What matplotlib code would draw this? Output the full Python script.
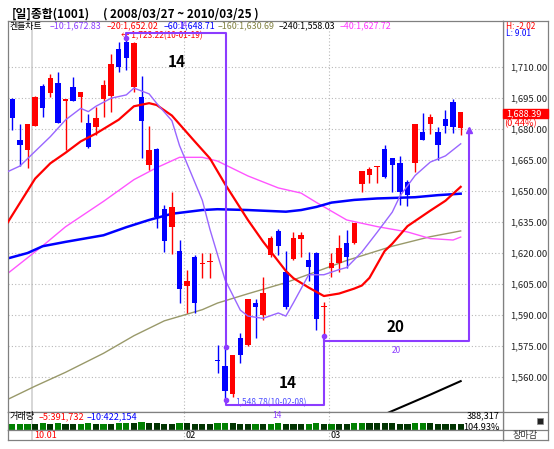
import numpy as np
import matplotlib.pyplot as plt

plt.rcParams['font.family'] = ['Noto Sans CJK KR', 'DejaVu Sans']

# daily KOSPI candles, 2009-12-28 .. 2010-03-25 (index 0..59)
opens = [1694.5, 1674.7, 1669.8, 1681.5, 1701.0, 1697.6, 1702.4, 1693.7, 1700.2, 1695.6,
         1683.1, 1680.8, 1694.4, 1696.0, 1718.7, 1722.2, 1700.5, 1695.6, 1662.6, 1670.2,
         1641.3, 1632.4, 1621.0, 1604.1, 1618.2, 1614.5, 1615.5, 1567.9, 1565.3, 1551.6,
         1578.8, 1575.5, 1595.6, 1590.0, 1619.0, 1630.8, 1611.0, 1617.0, 1626.9, 1616.6,
         1620.2, 1594.0, 1612.6, 1615.3, 1624.7, 1625.0, 1653.4, 1657.7, 1661.5, 1670.2,
         1666.1, 1663.4, 1654.2, 1663.4, 1678.7, 1682.4, 1678.4, 1684.7, 1693.2, 1680.3]
highs = [1695.2, 1682.4, 1682.4, 1695.8, 1701.8, 1706.5, 1707.4, 1694.5, 1705.3, 1698.1,
         1687.3, 1690.8, 1703.7, 1716.3, 1722.2, 1723.22, 1722.0, 1705.6, 1681.5, 1670.7,
         1643.2, 1649.4, 1626.3, 1611.8, 1619.0, 1619.9, 1619.9, 1575.5, 1575.0, 1570.8,
         1581.5, 1597.8, 1598.0, 1608.5, 1628.0, 1631.5, 1620.9, 1630.3, 1630.3, 1620.6,
         1620.6, 1596.3, 1619.9, 1628.7, 1631.2, 1634.7, 1659.9, 1661.5, 1662.1, 1672.3,
         1666.2, 1667.0, 1655.3, 1682.5, 1687.6, 1687.3, 1681.1, 1689.2, 1694.4, 1688.4]
lows = [1679.5, 1662.1, 1661.0, 1681.5, 1686.0, 1695.6, 1683.1, 1669.8, 1693.7, 1683.5,
        1671.0, 1677.1, 1686.0, 1688.4, 1707.7, 1708.5, 1698.0, 1665.8, 1660.2, 1632.0,
        1620.6, 1619.5, 1596.0, 1590.8, 1591.1, 1607.8, 1607.8, 1561.8, 1548.78, 1550.5,
        1566.6, 1575.0, 1578.8, 1587.6, 1618.0, 1619.0, 1593.0, 1616.5, 1618.2, 1606.7,
        1582.8, 1580.0, 1608.5, 1611.0, 1612.6, 1624.5, 1649.7, 1653.7, 1653.7, 1656.5,
        1649.7, 1643.2, 1642.8, 1659.3, 1674.6, 1677.6, 1665.0, 1677.9, 1677.9, 1677.1]
closes = [1685.2, 1672.3, 1682.4, 1695.6, 1690.0, 1704.8, 1683.1, 1694.5, 1693.7, 1698.1,
          1671.4, 1685.2, 1701.3, 1711.5, 1709.9, 1714.2, 1721.5, 1684.0, 1669.8, 1637.6,
          1625.8, 1642.1, 1602.6, 1606.5, 1596.0, 1614.9, 1615.9, 1567.6, 1553.4, 1570.5,
          1570.7, 1597.6, 1594.0, 1600.5, 1627.4, 1623.6, 1594.0, 1627.1, 1628.9, 1613.1,
          1588.0, 1594.3, 1615.3, 1622.3, 1618.2, 1634.4, 1659.8, 1660.5, 1661.8, 1656.6,
          1662.6, 1649.4, 1648.1, 1682.4, 1674.7, 1685.7, 1672.3, 1681.6, 1681.1, 1688.39]

volumes = [380, 390, 410, 400, 420, 395, 430, 405, 400, 410,
           420, 400, 415, 405, 430, 470, 440, 480, 430, 425,
           410, 400, 440, 430, 410, 405, 400, 420, 440, 430,
           410, 400, 405, 395, 415, 420, 410, 405, 400, 410,
           420, 405, 410, 400, 395, 420, 470, 440, 430, 425,
           420, 415, 410, 445, 460, 420, 410, 400, 395, 388]

# moving averages: (day index, value)
ma10_idx = [-1, 1, 5, 7, 9, 10, 11, 13, 15, 16, 18, 19, 21, 22, 25, 26, 28, 30, 31, 33,
            35, 36, 37, 39, 41, 43, 44, 46, 48, 50, 51, 53, 55, 57, 59]
ma10_val = [1658.7, 1662.1, 1676.3, 1684.4, 1690.0, 1688.4, 1691.0, 1694.9, 1696.5, 1699.8,
            1697.0, 1692.4, 1684.0, 1672.0, 1645.5, 1631.5, 1607.0, 1592.4, 1589.5, 1588.4,
            1591.0, 1589.5, 1596.0, 1609.5, 1609.5, 1612.0, 1613.0, 1620.5, 1630.0, 1639.8,
            1647.5, 1657.5, 1664.0, 1667.0, 1672.83]
ma20_idx = [-1, 3, 5, 7, 9, 11, 14, 16, 18, 19, 21, 24, 26, 28, 31, 33, 36, 37, 39, 41,
            43, 45, 46, 47, 49, 50, 52, 54, 55, 57, 59]
ma20_val = [1632.5, 1656.0, 1663.4, 1668.5, 1674.0, 1677.8, 1684.5, 1691.0, 1692.5, 1691.6,
            1686.5, 1674.0, 1665.8, 1653.3, 1636.0, 1625.5, 1611.3, 1607.8, 1603.3, 1599.2,
            1600.4, 1602.8, 1604.3, 1608.0, 1621.0, 1624.5, 1633.0, 1638.0, 1640.5, 1645.3,
            1652.02]
ma60_idx = [-1, 2, 4, 7, 12, 15, 18, 21, 25, 27, 31, 36, 38, 40, 42, 45, 48, 53, 56, 59]
ma60_val = [1617.0, 1620.0, 1623.3, 1625.4, 1628.6, 1632.5, 1636.0, 1639.0, 1640.8, 1641.2,
            1640.8, 1640.0, 1640.8, 1642.3, 1644.4, 1645.7, 1646.4, 1647.0, 1648.0, 1648.71]
ma160_idx = [-1, 3, 7, 12, 16, 20, 25, 27, 31, 36, 40, 44, 50, 55, 59]
ma160_val = [1548.5, 1555.6, 1562.3, 1571.5, 1580.0, 1587.2, 1592.6, 1595.8, 1600.3, 1605.7,
             1611.0, 1616.4, 1623.3, 1627.9, 1630.69]
ma240_idx = [44, 50, 55, 59]
ma240_val = [1534.0, 1543.6, 1551.5, 1558.03]
ma40_idx = [-1, 4, 7, 12, 16, 19, 22, 25, 27, 31, 35, 38, 40, 44, 48, 52, 55, 58, 59]
ma40_val = [1609.0, 1623.5, 1632.7, 1645.0, 1655.5, 1661.3, 1666.3, 1666.3, 1664.5, 1657.3,
            1651.5, 1649.0, 1644.5, 1636.0, 1632.8, 1630.2, 1627.0, 1626.3, 1627.72]

month_first = [3, 23, 42]
month_labels = ['10.01', '02', '03']
price_ticks = [1560, 1575, 1590, 1605, 1620, 1635, 1650, 1665, 1680, 1695, 1710]

PURPLE = '#8c3cff'

W, H = 554, 449
fig = plt.figure(figsize=(W / 100, H / 100), dpi=100)


def fx(x):
    return x / W


def fy(y):
    return 1 - y / H


def box(x0, y0, x1, y1):
    return [fx(x0), fy(y1), fx(x1) - fx(x0), fy(y0) - fy(y1)]


# right-hand column frame first, so the price labels draw over it
axr = fig.add_axes(box(503, 21, 548, 440))
axr.set_xticks([])
axr.set_yticks([])
axr.patch.set_visible(False)
for s in axr.spines.values():
    s.set_color('#808080')
    s.set_linewidth(0.9)

ax = fig.add_axes(box(8, 21, 503, 412))
axv = fig.add_axes(box(8, 412, 503, 430))
axd = fig.add_axes(box(8, 430, 503, 440))

xlim = (-0.57, 64.57)
for a in (ax, axv, axd):
    a.set_xlim(*xlim)
    a.set_xticks([])
    for s in a.spines.values():
        s.set_color('#808080')
        s.set_linewidth(0.9)

# price panel
ax.set_ylim(1543.1, 1732.25)
ax.set_yticks(price_ticks)
ax.yaxis.tick_right()
ax.tick_params(axis='y', length=0, pad=5, labelsize=6.8, labelcolor='#222222')
ax.set_yticklabels(['{:,.2f}'.format(t) for t in price_ticks])
ax.grid(axis='y', color='#b8b8b8', linestyle=(0, (1, 2)), linewidth=0.8)

for k, m in enumerate(month_first):
    for a in (ax, axv, axd):
        if k == 0:
            a.axvline(m - 0.35, color='#d0d0d0', lw=1.2, zorder=0)
        else:
            a.axvline(m - 0.35, color='#b8b8b8', lw=0.8, ls=(0, (1, 2)), zorder=0)

o = np.array(opens)
c = np.array(closes)
x = np.arange(len(o))
up = c >= o
colors = np.where(up, '#ff0000', '#0000ff')
ax.vlines(x, lows, highs, colors=colors, lw=1, zorder=3)
ax.bar(x, np.maximum(np.abs(c - o), 0.5), bottom=np.minimum(o, c), width=0.72,
       color=colors, lw=0, zorder=4)

ax.plot(ma160_idx, ma160_val, color='#99996a', lw=1.0, zorder=2)
ax.plot(ma240_idx, ma240_val, color='#000000', lw=1.5, zorder=2)
ax.plot(ma40_idx, ma40_val, color='#ff55ff', lw=1.0, zorder=2)
ax.plot(ma60_idx, ma60_val, color='#0000ff', lw=1.8, zorder=2)
ax.plot(ma20_idx, ma20_val, color='#ff0000', lw=1.6, zorder=5)
ax.plot(ma10_idx, ma10_val, color='#9966ff', lw=1.0, zorder=5)

# wave count boxes
ax.plot([15, 15, 28.1, 28.1], [1724.0, 1726.4, 1726.4, 1574.5], color=PURPLE, lw=1.5, zorder=6)
ax.plot([28.1, 28.1, 41, 41], [1548.9, 1546.5, 1546.5, 1579.9], color=PURPLE, lw=1.5, zorder=6)
ax.plot([41, 41, 60.1, 60.1], [1579.9, 1577.6, 1577.6, 1680.0], color=PURPLE, lw=1.5, zorder=6)
ax.plot([15, 28.1, 28.1, 41], [1724.0, 1574.5, 1548.9, 1579.9], 'o', color=PURPLE,
        ms=3, zorder=7)
ax.plot([60.1], [1679.5], marker='^', color=PURPLE, ms=5, zorder=7)
ax.text(21.6, 1712.5, '14', fontsize=11, fontweight='bold', ha='center', va='center')
ax.text(36.2, 1557.0, '14', fontsize=11, fontweight='bold', ha='center', va='center')
ax.text(50.4, 1584.0, '20', fontsize=11, fontweight='bold', ha='center', va='center')
ax.text(50.5, 1573.0, '20', fontsize=6, color=PURPLE, ha='center', va='center')
ax.text(14.3, 1725.0, '\u2190 1,723.22(10-01-19)', fontsize=6, color='#ff0000',
        ha='left', va='center')
ax.text(29.3, 1547.8, '1,548.78(10-02-08)', fontsize=6, color='#5050ff',
        ha='left', va='center')

# volume panel
vol = np.array(volumes)
vcol = ['#008000' if k == 0 or vol[k] >= vol[k - 1] else '#003300' for k in range(len(vol))]
axv.bar(x, vol, width=0.8, color=vcol, lw=0)
axv.set_ylim(0, 1150)
axv.set_yticks([])

# date strip
axd.set_ylim(0, 1)
axd.set_yticks([])
for m, lab in zip(month_first, month_labels):
    axd.text(m - 0.15, 0.45, lab, fontsize=6.5, color='#ff0000' if '.' in lab else '#000000',
             ha='left', va='center')

# header texts
fig.text(fx(12), fy(14), '[일]종합(1001)', fontsize=8.5, fontweight='bold', va='center')
fig.text(fx(103), fy(14), '( 2008/03/27 ~ 2010/03/25 )', fontsize=8.5, fontweight='bold',
         va='center')

legend = [('켄들차트', '#000000', 10), ('\u201310:1,672.83', '#8c3cff', 50),
          ('\u201320:1,652.02', '#ff0000', 107), ('\u201360:1,648.71', '#0000ff', 164),
          ('\u2013160:1,630.69', '#808040', 218), ('\u2013240:1,558.03', '#000000', 279),
          ('\u201340:1,627.72', '#ff33ff', 340)]
for txt, col, px in legend:
    fig.text(fx(px), fy(26), txt, fontsize=6.4, color=col, va='center')
fig.text(fx(178), fy(25), '14', fontsize=6, color=PURPLE, va='center')
fig.text(fx(272), fy(416), '14', fontsize=6, color=PURPLE, va='center')

fig.text(fx(10), fy(417), '거래량', fontsize=6.6, color='#000000', va='center')
fig.text(fx(39), fy(417), '\u20135:391,732', fontsize=6.6, color='#ff0000', va='center')
fig.text(fx(87), fy(417), '\u201310:422,154', fontsize=6.6, color='#0000ff', va='center')
fig.text(fx(500), fy(416), '388,317', fontsize=6.6, color='#000000', va='center', ha='right')
fig.text(fx(500), fy(427), '104.93%', fontsize=6.6, color='#000000', va='center', ha='right')

fig.text(fx(506), fy(26.5), 'H: -2.02', fontsize=6, color='#ff0000', va='center')
fig.text(fx(506), fy(34), 'L: 9.01', fontsize=6, color='#0000ff', va='center')

# last price tag
fig.patches.append(plt.Rectangle((fx(503), fy(118)), fx(45), fy(0) - fy(9.5),
                                 transform=fig.transFigure, color='#ff0000', zorder=5))
fig.text(fx(506), fy(113.5), '1,688.39', fontsize=6.6, color='white', va='center', zorder=6)
fig.text(fx(504), fy(123.5), '(0.44%)', fontsize=6.6, color='#ff0000', va='center', zorder=6)

fig.lines.append(plt.Line2D([fx(503), fx(548)], [fy(412), fy(412)], transform=fig.transFigure,
                            color='#808080', lw=0.9))
fig.lines.append(plt.Line2D([fx(503), fx(548)], [fy(430), fy(430)], transform=fig.transFigure,
                            color='#808080', lw=0.9))
fig.patches.append(plt.Rectangle((fx(537), fy(424)), fx(6), fy(0) - fy(6),
                                 transform=fig.transFigure, facecolor='#222222',
                                 edgecolor='#888888', lw=0.5))
fig.text(fx(525), fy(435.5), '장마감', fontsize=6.6, color='#333333', va='center', ha='center')

fig.savefig('out.png', dpi=100)
